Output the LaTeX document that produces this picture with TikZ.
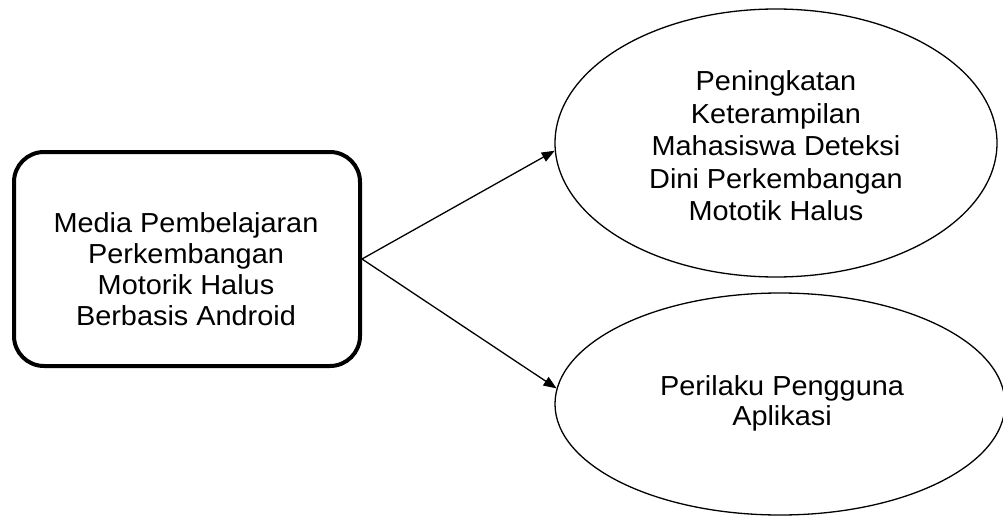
\documentclass[tikz,border=0pt]{standalone}
\usepackage{fontspec}
\setmainfont{Liberation Sans}[FakeStretch=1.05]
\usetikzlibrary{shapes.geometric,arrows.meta}
\tikzset{
  txt/.style={font=\fontsize{27.5}{31}\selectfont, align=center, text=black, inner sep=0pt},
  mainbox/.style={draw, line width=4pt, rounded corners=30pt, minimum width=346pt, minimum height=214pt, inner sep=0pt},
  oval/.style={draw, ellipse, line width=1.3pt, inner sep=0pt},
  conn/.style={line width=1.3pt, -{Triangle[length=13pt,width=10pt]}}
}
\begin{document}
\begin{tikzpicture}[x=1pt,y=-1pt]
\useasboundingbox (0,0) rectangle (1003,516);
\node[mainbox] (media) at (187,259) {};
\node[txt] (mediatext) at (186,269) {Media Pembelajaran\\Perkembangan\\Motorik Halus\\Berbasis Android};
\node[oval, minimum width=442pt, minimum height=268pt] (skill) at (776,143) {};
\node[txt, font=\fontsize{27.5}{32.5}\selectfont] (skilltext) at (776,146) {Peningkatan\\Keterampilan\\Mahasiswa Deteksi\\Dini Perkembangan\\Mototik Halus};
\node[oval, minimum width=450pt, minimum height=222pt] (user) at (780,404) {};
\node[txt, font=\fontsize{27.5}{30}\selectfont] (usertext) at (782,403) {Perilaku Pengguna\\Aplikasi};
\draw[conn] (media.east) -- (skill.182.6);
\draw[conn] (media.east) -- (user.176);
\end{tikzpicture}
\end{document}
